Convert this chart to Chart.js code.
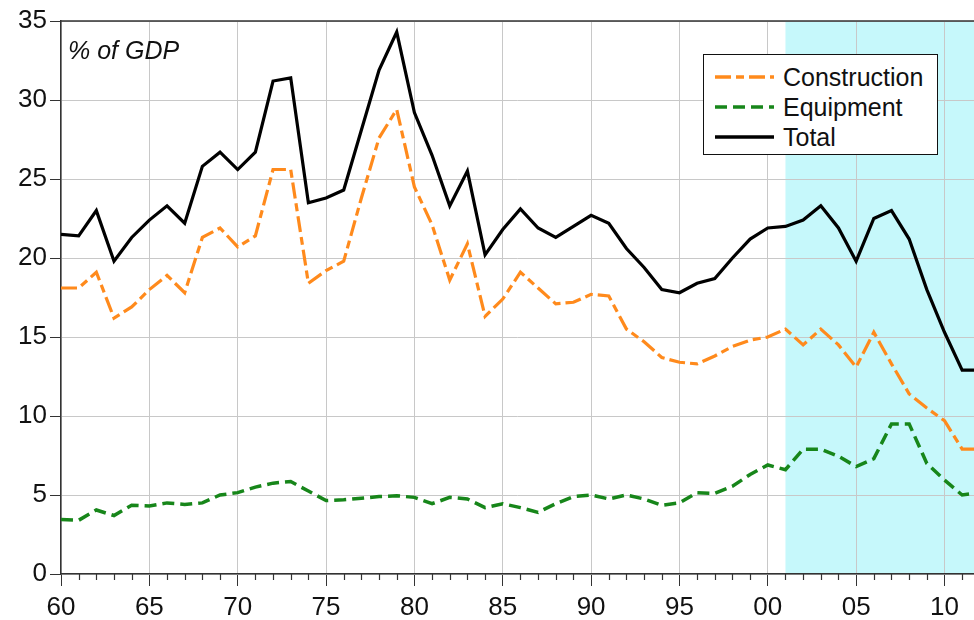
<!DOCTYPE html>
<html lang="en">
<head>
  <meta charset="UTF-8">
  <title>Investment, % of GDP</title>
  <script src="https://cdn.jsdelivr.net/npm/chart.js"></script>
  <style>
    body { margin: 0; background: #fff; font-family: "Liberation Sans", Arial, sans-serif; }
    #wrap { position: relative; width: 974px; height: 620px; }
    #unit { position: absolute; left: 68px; top: 38px; font-size: 25px; line-height: 25px; font-style: italic; color: #111; }
    #legend { position: absolute; left: 703px; top: 54px; width: 235px; height: 101px; box-sizing: border-box;
              border: 1px solid #111; background: #fff; padding: 7px 0 0 11px; }
    .row { display: flex; align-items: center; height: 30px; line-height: 30px; font-size: 25px; color: #111; }
    .row svg { margin-right: 9px; }
  </style>
</head>
<body>
<div id="wrap">
  <canvas id="chart"></canvas>
  <div id="unit">% of GDP</div>
  <div id="legend"></div>
</div>

<script>
  // years 1960-2012 (axis stops a bit before 2012)
  const years = [1960, 1961, 1962, 1963, 1964, 1965, 1966, 1967, 1968, 1969,
                 1970, 1971, 1972, 1973, 1974, 1975, 1976, 1977, 1978, 1979,
                 1980, 1981, 1982, 1983, 1984, 1985, 1986, 1987, 1988, 1989,
                 1990, 1991, 1992, 1993, 1994, 1995, 1996, 1997, 1998, 1999,
                 2000, 2001, 2002, 2003, 2004, 2005, 2006, 2007, 2008, 2009,
                 2010, 2011, 2012];

  const construction = [18.1, 18.1, 19.1, 16.2, 16.9, 18.0, 18.9, 17.8, 21.3, 21.9,
                        20.7, 21.4, 25.6, 25.6, 18.4, 19.2, 19.8, 23.8, 27.6, 29.4,
                        24.5, 22.1, 18.6, 20.9, 16.3, 17.4, 19.1, 18.1, 17.1, 17.2,
                        17.7, 17.6, 15.5, 14.7, 13.7, 13.4, 13.3, 13.8, 14.4, 14.8,
                        15.0, 15.5, 14.5, 15.5, 14.5, 13.1, 15.3, 13.3, 11.4, 10.5,
                        9.7, 7.9, 7.9];

  const equipment = [3.45, 3.4, 4.05, 3.7, 4.35, 4.3, 4.5, 4.4, 4.5, 5.0,
                     5.15, 5.5, 5.75, 5.85, 5.25, 4.65, 4.7, 4.8, 4.9, 4.95,
                     4.85, 4.45, 4.85, 4.75, 4.2, 4.45, 4.2, 3.9, 4.45, 4.9,
                     5.0, 4.75, 5.0, 4.75, 4.35, 4.5, 5.15, 5.1, 5.55, 6.3,
                     6.9, 6.6, 7.9, 7.9, 7.45, 6.8, 7.3, 9.5, 9.5, 7.0,
                     5.95, 5.0, 5.15];

  const total = [21.5, 21.4, 23.0, 19.8, 21.3, 22.4, 23.3, 22.2, 25.8, 26.7,
                 25.6, 26.7, 31.2, 31.4, 23.5, 23.8, 24.3, 28.1, 31.9, 34.3,
                 29.2, 26.5, 23.3, 25.5, 20.2, 21.8, 23.1, 21.9, 21.3, 22.0,
                 22.7, 22.2, 20.6, 19.4, 18.0, 17.8, 18.4, 18.7, 20.0, 21.2,
                 21.9, 22.0, 22.4, 23.3, 21.9, 19.8, 22.5, 23.0, 21.2, 18.0,
                 15.3, 12.9, 12.9];

  const shadeFrom = 2001;   // shaded period start
  const xMin = 1960, xMax = 2011.67;

  const pts = arr => years.map((y, i) => ({ x: y, y: arr[i] }));

  // shading + top border + minor year ticks
  const extras = {
    id: "extras",
    beforeDraw(chart) {
      const { ctx, chartArea: a, scales: { x } } = chart;
      const x0 = x.getPixelForValue(shadeFrom);
      ctx.save();
      ctx.fillStyle = "#c6f8fb";
      ctx.fillRect(x0, a.top, a.right - x0, a.bottom - a.top);
      ctx.restore();
    },
    afterDraw(chart) {
      const { ctx, chartArea: a, scales: { x } } = chart;
      ctx.save();
      ctx.strokeStyle = "#333";
      ctx.lineWidth = 1.5;
      ctx.beginPath();
      ctx.moveTo(a.left, a.top);
      ctx.lineTo(a.right, a.top);
      ctx.stroke();
      ctx.lineWidth = 1.2;
      years.forEach(y => {
        if (y % 5 === 0 || y > xMax) return;
        const px = Math.round(x.getPixelForValue(y)) + 0.5;
        ctx.beginPath();
        ctx.moveTo(px, a.bottom);
        ctx.lineTo(px, a.bottom + 6);
        ctx.stroke();
      });
      ctx.restore();
    }
  };

  const font = { family: "'Liberation Sans', Arial, sans-serif", size: 26 };

  const chart = new Chart(document.getElementById("chart"), {
    type: "line",
    data: {
      datasets: [
        { label: "Construction", data: pts(construction), borderColor: "#ff8a1c", borderWidth: 3.2,
          borderDash: [16, 5, 8, 5] },
        { label: "Equipment", data: pts(equipment), borderColor: "#17861a", borderWidth: 3.5,
          borderDash: [12, 6] },
        { label: "Total", data: pts(total), borderColor: "#000", borderWidth: 3.2 }
      ]
    },
    options: {
      responsive: true,
      maintainAspectRatio: false,
      animation: false,
      elements: { point: { radius: 0 }, line: { tension: 0, borderCapStyle: "butt" } },
      layout: { padding: { top: 21, right: 0, left: 0, bottom: 0 } },
      plugins: { legend: { display: false }, tooltip: { enabled: false } },
      scales: {
        x: {
          type: "linear",
          min: xMin,
          max: xMax,
          afterFit: s => { s.height = 46; },
          border: { color: "#333", width: 1.5 },
          grid: { color: "#c8c8c8", lineWidth: 1, tickLength: 12, tickColor: "#333" },
          ticks: {
            stepSize: 5,
            includeBounds: false,
            maxRotation: 0,
            padding: 6,
            color: "#111",
            font: font,
            callback: v => String(v % 100).padStart(2, "0")
          }
        },
        y: {
          min: 0,
          max: 35,
          afterFit: s => { s.width = 61; },
          border: { color: "#333", width: 1.5 },
          grid: { color: "#c8c8c8", lineWidth: 1, tickLength: 11, tickColor: "#333" },
          ticks: { stepSize: 5, padding: 3, color: "#111", font: font }
        }
      }
    },
    plugins: [extras]
  });

  // legend from the datasets
  const legend = document.getElementById("legend");
  chart.data.datasets.forEach(ds => {
    const dash = ds.borderDash ? ds.borderDash.join(" ") : "none";
    const row = document.createElement("div");
    row.className = "row";
    row.innerHTML = `<svg width="59" height="6"><line x1="0" y1="3" x2="59" y2="3" stroke="${ds.borderColor}"
      stroke-width="3.5" stroke-dasharray="${dash}"/></svg><span>${ds.label}</span>`;
    legend.appendChild(row);
  });
</script>
</body>
</html>
